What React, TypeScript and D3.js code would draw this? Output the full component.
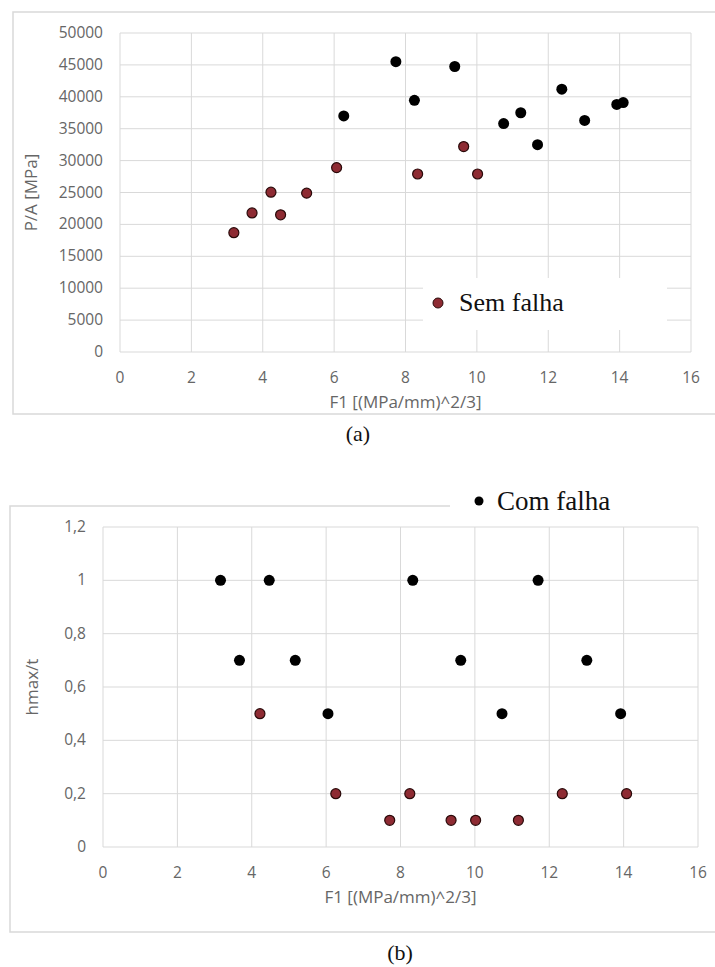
import React from 'react'
import * as d3 from 'd3'

// chart (a) P/A vs F1
const comFalhaA_x = [6.27, 7.73, 8.25, 9.38, 10.75, 11.23, 11.7, 12.38, 13.02, 13.92, 14.1]
const comFalhaA_y = [37000, 45500, 39450, 44750, 35800, 37500, 32500, 41200, 36300, 38800, 39100]
const semFalhaA_x = [3.19, 3.7, 4.23, 4.5, 5.23, 6.07, 8.34, 9.63, 10.02]
const semFalhaA_y = [18700, 21800, 25050, 21500, 24900, 28900, 27900, 32200, 27900]

// chart (b) hmax/t vs F1
const comFalhaB_x = [3.16, 4.47, 8.33, 11.7, 3.67, 5.17, 9.62, 13.01, 6.05, 10.73, 13.92]
const comFalhaB_y = [1, 1, 1, 1, 0.7, 0.7, 0.7, 0.7, 0.5, 0.5, 0.5]
const semFalhaB_x = [4.22, 6.26, 8.25, 12.35, 14.08, 7.71, 9.36, 10.02, 11.17]
const semFalhaB_y = [0.5, 0.2, 0.2, 0.2, 0.2, 0.1, 0.1, 0.1, 0.1]

const xTicks = [0, 2, 4, 6, 8, 10, 12, 14, 16]
const yTicksA = [0, 5000, 10000, 15000, 20000, 25000, 30000, 35000, 40000, 45000, 50000]
const yTicksB = [0, 0.2, 0.4, 0.6, 0.8, 1, 1.2]

const xTitle = 'F1 [(MPa/mm)^2/3]'
const grid = '#d9d9d9'
const labelColor = '#666'
const red = '#8e2b33'
const sans = '"Open Sans", sans-serif'
const serif = '"Liberation Serif", "Times New Roman", serif'

const fmtB = (v: number) => String(v).replace('.', ',')

function Panel(props: any) {
  const { x, y, yTicks, fmt, yTitle, yTitleX, black, reds } = props
  const [x0, x1] = x.range()
  const [y0, y1] = y.range()
  return (
    <g>
      {xTicks.map((t) => (
        <line key={'vx' + t} x1={x(t)} x2={x(t)} y1={y0} y2={y1} stroke={grid} strokeWidth={1} />
      ))}
      {yTicks.map((t: number) => (
        <line key={'hy' + t} x1={x0} x2={x1} y1={y(t)} y2={y(t)} stroke={grid} strokeWidth={1} />
      ))}
      {xTicks.map((t) => (
        <text key={'xl' + t} x={x(t)} y={y0 + 31} textAnchor="middle" fontFamily={sans} fontSize={15.5} fill={labelColor}>{t}</text>
      ))}
      {yTicks.map((t: number) => (
        <text key={'yl' + t} x={x0 - 17} y={y(t) + 5} textAnchor="end" fontFamily={sans} fontSize={15.5} fill={labelColor}>{fmt(t)}</text>
      ))}
      <text x={(x0 + x1) / 2} y={y0 + 56} textAnchor="middle" fontFamily={sans} fontSize={17} fill={labelColor}>{xTitle}</text>
      <text transform={`translate(${yTitleX},${(y0 + y1) / 2}) rotate(-90)`} textAnchor="middle" fontFamily={sans} fontSize={17} fill={labelColor}>{yTitle}</text>
      {black.map((d: number[], i: number) => (
        <circle key={'b' + i} cx={x(d[0])} cy={y(d[1])} r={5.5} fill="#000" />
      ))}
      {reds.map((d: number[], i: number) => (
        <circle key={'r' + i} cx={x(d[0])} cy={y(d[1])} r={5} fill={red} stroke="#2a0a0a" strokeWidth={1.2} />
      ))}
    </g>
  )
}

export default function App() {
  const xA = d3.scaleLinear().domain([0, 16]).range([120, 691])
  const yA = d3.scaleLinear().domain([0, 50000]).range([352, 33])
  const xB = d3.scaleLinear().domain([0, 16]).range([103, 698])
  const yB = d3.scaleLinear().domain([0, 1.2]).range([847, 527])

  const blackA = comFalhaA_x.map((v, i) => [v, comFalhaA_y[i]])
  const redA = semFalhaA_x.map((v, i) => [v, semFalhaA_y[i]])
  const blackB = comFalhaB_x.map((v, i) => [v, comFalhaB_y[i]])
  const redB = semFalhaB_x.map((v, i) => [v, semFalhaB_y[i]])

  return (
    <svg width={715} height={967} style={{ position: 'absolute', left: 0, top: 0, background: '#fff' }}>
      <rect x={0} y={0} width={715} height={967} fill="#fff" />
      {/* frame a */}
      <path d="M715,12 H13 V414 H715" fill="none" stroke={grid} strokeWidth={1.5} />
      <Panel x={xA} y={yA} yTicks={yTicksA} fmt={(v: number) => String(v)} yTitle="P/A [MPa]" yTitleX={37} black={blackA} reds={redA} />
      <rect x={423} y={278} width={244} height={52} fill="#fff" />
      <circle cx={438} cy={303} r={5} fill={red} stroke="#2a0a0a" strokeWidth={1} />
      <text x={459} y={311} fontFamily={serif} fontSize={26} fill="#111">Sem falha</text>
      <text x={358} y={441} textAnchor="middle" fontFamily={serif} fontSize={22} fill="#111">(a)</text>

      {/* frame b */}
      <path d="M450,506 H10 V932 H715" fill="none" stroke={grid} strokeWidth={1.5} />
      <Panel x={xB} y={yB} yTicks={yTicksB} fmt={fmtB} yTitle="hmax/t" yTitleX={38} black={blackB} reds={redB} />
      <circle cx={479} cy={501} r={4.5} fill="#000" />
      <text x={497} y={510} fontFamily={serif} fontSize={27} fill="#111">Com falha</text>
      <text x={400} y={960} textAnchor="middle" fontFamily={serif} fontSize={22} fill="#111">(b)</text>
    </svg>
  )
}
